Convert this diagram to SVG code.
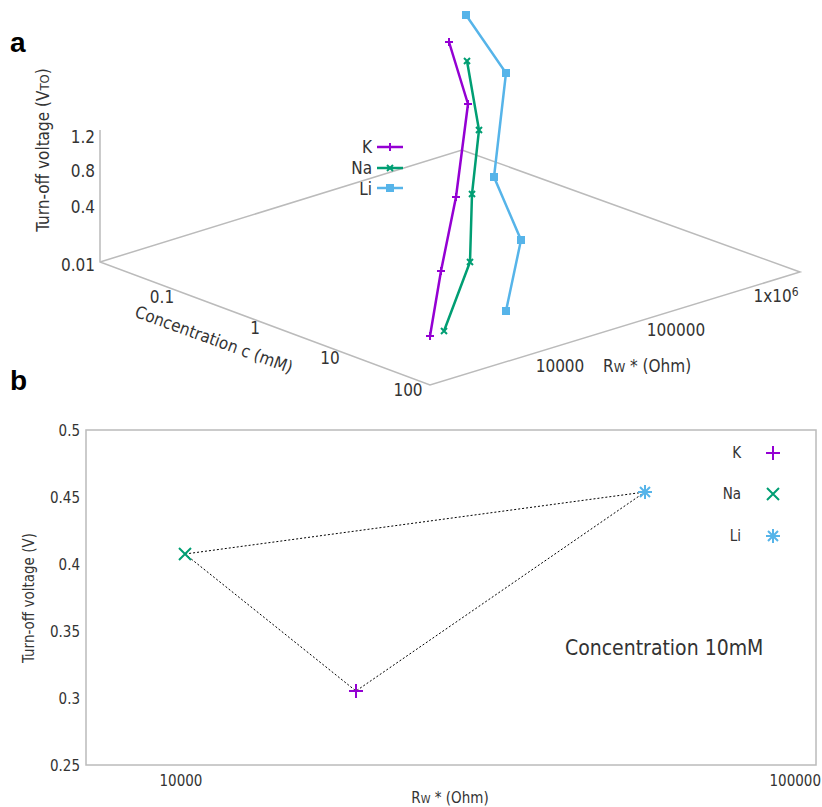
<svg xmlns="http://www.w3.org/2000/svg" width="822" height="807" viewBox="0 0 822 807">
<style>
text{font-family:"DejaVu Sans Condensed","DejaVu Sans",sans-serif;fill:#333}
.t{font-size:15px}
.u{font-size:17px}
.ax{stroke:#bbb;stroke-width:1.5;fill:none}
.k{stroke:#9400d3;fill:none;stroke-width:2.5}
.na{stroke:#009e73;fill:none;stroke-width:2.5}
.li{stroke:#56b4e9;fill:none;stroke-width:2.5}
.pl{font-family:"Liberation Sans",Arial,sans-serif;font-weight:bold;font-size:28px;fill:#000}
</style>
<rect width="822" height="807" fill="#fff"/>
<text class="pl" x="10" y="52">a</text>
<text class="pl" x="10" y="390">b</text>
<g id="panel-a">
<path class="ax" d="M100,130V262L430,385L800,272L462,150L100,262"/>
<g class="u" text-anchor="end">
<text x="95" y="143">1.2</text><text x="95" y="177">0.8</text><text x="95" y="213">0.4</text><text x="95" y="271">0.01</text>
</g>
<text class="u" transform="translate(49,150) rotate(-90)" text-anchor="middle">Turn-off voltage (V<tspan font-size="13">TO</tspan>)</text>
<g class="u" text-anchor="middle">
<text x="162" y="303">0.1</text><text x="255" y="334">1</text><text x="330" y="364">10</text><text x="408" y="396">100</text>
<text x="560" y="372">10000</text><text x="676" y="336">100000</text><text x="776" y="302">1x10<tspan font-size="12" dy="-6">6</tspan></text>
</g>
<text class="u" transform="translate(212,345) rotate(20)" text-anchor="middle">Concentration c (mM)</text>
<text class="u" x="603" y="372">R<tspan font-size="13">W</tspan> * (Ohm)</text>
<polyline class="k" points="449,42 468,104 456,197 441,271 430,336"/>
<polyline class="na" points="467,61 479,130 472,194 470,262 444,331"/>
<polyline class="li" points="466,15 506,73 494,177 521,240 506,311"/>
<g class="u" text-anchor="end"><text x="372" y="153">K</text><text x="372" y="174">Na</text><text x="372" y="195">Li</text></g>
<line class="k" x1="377" y1="147" x2="403" y2="147"/>
<line class="na" x1="377" y1="168" x2="403" y2="168"/>
<line class="li" x1="377" y1="188" x2="403" y2="188"/>
<path stroke="#9400d3" stroke-width="2" d="M445,42h8M449,38v8M464,104h8M468,100v8M452,197h8M456,193v8M437,271h8M441,267v8M426,336h8M430,332v8M386,147h8M390,143v8"/>
<path stroke="#009e73" stroke-width="2" d="M464,58l6,6M470,58l-6,6M476,127l6,6M482,127l-6,6M469,191l6,6M475,191l-6,6M467,259l6,6M473,259l-6,6M441,328l6,6M447,328l-6,6M387,165l6,6M393,165l-6,6"/>
<g fill="#56b4e9"><rect x="462" y="11" width="8" height="8"/><rect x="502" y="69" width="8" height="8"/><rect x="490" y="173" width="8" height="8"/><rect x="517" y="236" width="8" height="8"/><rect x="502" y="307" width="8" height="8"/><rect x="386" y="184" width="8" height="8"/></g>
</g>
<g id="panel-b">
<rect x="86" y="430" width="730" height="335" fill="none" stroke="#bbb" stroke-width="1.5"/>
<g class="t" text-anchor="end">
<text x="80" y="436">0.5</text><text x="80" y="503">0.45</text><text x="80" y="570">0.4</text><text x="80" y="637">0.35</text><text x="80" y="704">0.3</text><text x="80" y="771">0.25</text>
</g>
<g class="t" text-anchor="middle"><text x="181" y="786">10000</text></g>
<text class="t" x="821" y="786" text-anchor="end">100000</text>
<text class="t" x="450" y="803" text-anchor="middle">R<tspan font-size="11">W</tspan> * (Ohm)</text>
<text class="t" transform="translate(34,598) rotate(-90)" text-anchor="middle">Turn-off voltage (V)</text>
<polygon points="185,554 356,691 645,492" fill="none" stroke="#000" stroke-width="1" stroke-dasharray="2,2"/>
<g stroke-width="2" fill="none">
<path d="M349,691h14M356,684v14M766,453h14M773,446v14" stroke="#9400d3"/>
<path d="M179,548l12,12M191,548l-12,12M767,488l12,12M779,488l-12,12" stroke="#009e73"/>
<path d="M638,492h14M645,485v14M640,487l10,10M650,487l-10,10M766,536h14M773,529v14M768,531l10,10M778,531l-10,10" stroke="#56b4e9"/>
</g>
<g class="t" text-anchor="end"><text x="741" y="458">K</text><text x="741" y="499">Na</text><text x="741" y="541">Li</text></g>
<text x="565" y="655" font-family="Liberation Sans,Arial,sans-serif" font-size="21" fill="#000">Concentration 10mM</text>
</g>
</svg>
